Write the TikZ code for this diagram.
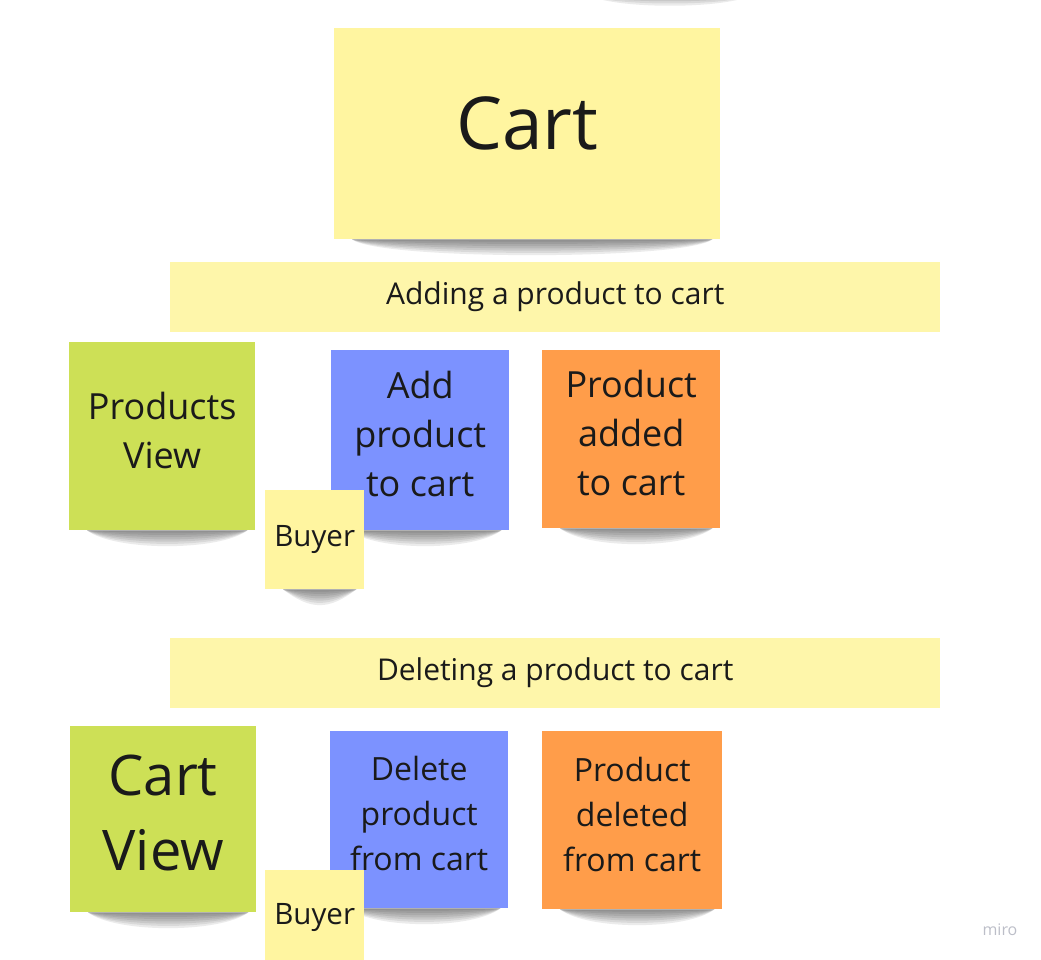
\documentclass[tikz,border=0pt]{standalone}
\usepackage{fontspec}
\setmainfont{Open Sans}
\usetikzlibrary{backgrounds}

\definecolor{noteyellow}{RGB}{255,245,160}
\definecolor{bandyellow}{RGB}{254,246,170}
\definecolor{notegreen}{RGB}{205,224,86}
\definecolor{noteblue}{RGB}{124,146,255}
\definecolor{noteorange}{RGB}{255,157,74}
\definecolor{inktext}{RGB}{26,26,26}
\definecolor{markgrey}{RGB}{188,190,200}

\tikzset{
    note/.style={anchor=north west, inner sep=0pt, align=center, text=inktext},
    bigsticky/.style={note, minimum width=186pt, minimum height=186pt, text depth=12pt},
    smallsticky/.style={note, fill=noteyellow, minimum width=99pt, minimum height=99pt,
        font=\fontsize{29.5}{36}\selectfont},
    band/.style={note, fill=bandyellow, minimum width=770pt, minimum height=70pt,
        font=\fontsize{30}{36}\selectfont},
    shade/.style={black, opacity=0.08}
}

% stacked thin layers, darkest just under the note
\newcommand{\noteshadow}[1]{%
    \foreach \d in {3,6,...,21} {
        \fill[shade] ([xshift=18pt]#1.south west)
            .. controls +(28pt,-\d pt) and +(-28pt,-\d pt) .. ([xshift=-8pt]#1.south east) -- cycle;
    }}

\begin{document}
\begin{tikzpicture}[x=1pt, y=-1pt]
    \useasboundingbox (0,0) rectangle (1041,960);

    % title note
    \node[note, fill=noteyellow, minimum width=386pt, minimum height=211pt, text depth=22pt,
        font=\fontsize{73}{88}\selectfont] (cart) at (334,28) {Cart};

    % adding a product
    \node[band] (addband) at (170,262) {Adding a product to cart};
    \node[bigsticky, fill=notegreen, minimum height=188pt,
        font=\fontsize{36}{49}\selectfont] (prodview) at (69,342) {Products\\View};
    \node[bigsticky, fill=noteblue, minimum width=178pt, minimum height=180pt,
        font=\fontsize{36}{49}\selectfont] (addcmd) at (331,350) {Add\\product\\to cart};
    \node[bigsticky, fill=noteorange, minimum width=178pt, minimum height=178pt,
        font=\fontsize{36}{49}\selectfont] (addevt) at (542,350) {Product\\added\\to cart};
    \node[smallsticky] (buyerone) at (265,490) {Buyer};

    % deleting a product
    \node[band] (delband) at (170,638) {Deleting a product to cart};
    \node[bigsticky, fill=notegreen, font=\fontsize{56}{75}\selectfont] (cartview) at (70,726) {Cart\\View};
    \node[bigsticky, fill=noteblue, minimum width=178pt, minimum height=177pt,
        font=\fontsize{32}{45}\selectfont] (delcmd) at (330,731) {Delete\\product\\from cart};
    \node[bigsticky, fill=noteorange, minimum width=180pt, minimum height=178pt,
        font=\fontsize{32}{45}\selectfont] (delevt) at (542,731) {Product\\deleted\\from cart};
    \node[smallsticky, minimum height=95pt] (buyertwo) at (265,870) {Buyer};

    \node[text=markgrey, font=\fontsize{16}{18}\selectfont] (miro) at (1000,930) {miro};

    \begin{scope}[on background layer]
        \noteshadow{cart}
        \noteshadow{prodview}
        \noteshadow{addcmd}
        \noteshadow{addevt}
        \noteshadow{buyerone}
        \noteshadow{cartview}
        \noteshadow{delcmd}
        \noteshadow{delevt}
        \foreach \d in {3,6,9} {
            \fill[shade] (590,-4) .. controls (620,\d) and (720,\d) .. (750,-4) -- cycle;
        }
    \end{scope}
\end{tikzpicture}
\end{document}
